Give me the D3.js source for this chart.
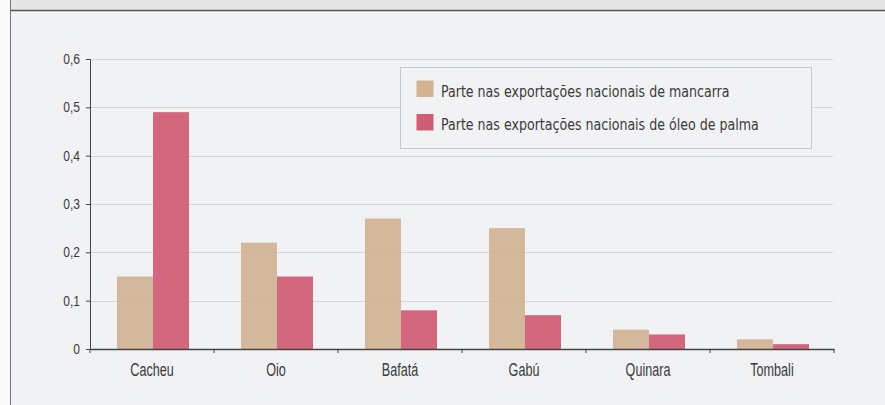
<!DOCTYPE html>
<html>
  <head>
    <meta charset="utf-8">
    <title>Exportações por região</title>
    <script src="https://d3js.org/d3.v7.min.js"></script>
    <style>
      body { margin: 0; background: #fafafa; }
      svg { display: block; font-family: "DejaVu Sans Condensed", "Liberation Sans Narrow", sans-serif; }
      .tick text { fill: #3a3a3a; }
    </style>
  </head>
  <body>
    <div id="chart"></div>
    <script>
      // data
      var regions = ["Cacheu", "Oio", "Bafatá", "Gabú", "Quinara", "Tombali"];
      var mancarra = [0.15, 0.22, 0.27, 0.25, 0.04, 0.02];
      var oleoPalma = [0.49, 0.15, 0.08, 0.07, 0.03, 0.01];
      var seriesNames = ["Parte nas exportações nacionais de mancarra", "Parte nas exportações nacionais de óleo de palma"];
      var colours = ["#d2b493", "#d05d74"];
      var yTicks = [0, 0.1, 0.2, 0.3, 0.4, 0.5, 0.6];

      var width = 885, height = 405;
      var margin = { top: 59, right: 51, bottom: 56, left: 90 };

      var svg = d3.select("#chart").append("svg")
        .attr("width", width)
        .attr("height", height);

      // squeeze a text element horizontally, the source font is a condensed face
      function condense(sel, k) {
        sel.each(function() {
          var len = this.getComputedTextLength();
          d3.select(this)
            .attr("textLength", len * k)
            .attr("lengthAdjust", "spacingAndGlyphs");
        });
      }

      // panel, header strip and left rule
      svg.append("rect").attr("x", 11).attr("y", 0).attr("width", width - 11).attr("height", height).attr("fill", "#f1f2f4");
      svg.append("rect").attr("x", 11).attr("y", 0).attr("width", width - 11).attr("height", 10).attr("fill", "#e6e6e6");
      svg.append("line").attr("x1", 11).attr("x2", width).attr("y1", 10.5).attr("y2", 10.5).attr("stroke", "#555").attr("stroke-width", 1.5);
      svg.append("line").attr("x1", 10.5).attr("x2", 10.5).attr("y1", 0).attr("y2", height).attr("stroke", "#777");

      var x = d3.scaleBand()
        .domain(regions)
        .range([margin.left, width - margin.right]);
      var x1 = d3.scaleBand()
        .domain([0, 1])
        .range([1, x.bandwidth() + 1])
        .paddingOuter(0.722)
        .paddingInner(0);
      var y = d3.scaleLinear()
        .domain([0, 0.6])
        .range([height - margin.bottom, margin.top]);

      // gridlines
      svg.append("g")
        .selectAll("line")
        .data(yTicks.slice(1))
        .enter().append("line")
          .attr("x1", margin.left)
          .attr("x2", width - margin.right - 1)
          .attr("y1", function(d) { return Math.round(y(d)) + 0.5; })
          .attr("y2", function(d) { return Math.round(y(d)) + 0.5; })
          .attr("stroke", "#d6d7d9");

      // bars
      var rows = regions.map(function(r, i) { return [mancarra[i], oleoPalma[i]]; });
      svg.append("g")
        .selectAll("g")
        .data(rows)
        .enter().append("g")
          .attr("transform", function(d, i) { return "translate(" + x(regions[i]) + ",0)"; })
        .selectAll("rect")
          .data(function(d) { return d; })
          .enter().append("rect")
            .attr("x", function(d, j) { return x1(j); })
            .attr("width", x1.bandwidth())
            .attr("y", function(d) { return y(d); })
            .attr("height", function(d) { return y(0) - y(d); })
            .attr("fill", function(d, j) { return colours[j]; })
            .attr("opacity", 0.93);

      // axes
      var yAxis = svg.append("g")
        .attr("transform", "translate(" + margin.left + ",0)")
        .call(d3.axisLeft(y)
          .tickValues(yTicks)
          .tickSize(4)
          .tickPadding(6)
          .tickFormat(function(d) { return d === 0 ? "0" : d3.format(".1f")(d).replace(".", ","); }));
      yAxis.selectAll("text").attr("font-size", 14);
      condense(yAxis.selectAll("text"), 0.86);
      yAxis.selectAll("line, path").attr("stroke", "#444");

      var xAxis = svg.append("g")
        .attr("transform", "translate(0," + y(0) + ")")
        .call(d3.axisBottom(x).tickSize(0).tickPadding(14.5));
      xAxis.selectAll("text").attr("font-size", 17.5);
      condense(xAxis.selectAll("text"), 0.72);
      xAxis.select(".domain").attr("stroke", "#444").attr("stroke-width", 1.3);
      xAxis.append("g")
        .selectAll("line")
        .data(x.range().concat(regions.slice(1).map(function(r) { return x(r); })))
        .enter().append("line")
          .attr("x1", function(d) { return d; })
          .attr("x2", function(d) { return d; })
          .attr("y1", 0)
          .attr("y2", 4)
          .attr("stroke", "#444");

      // legend
      var legend = svg.append("g").attr("transform", "translate(400.5,67.5)");
      legend.append("rect")
        .attr("width", 411)
        .attr("height", 81)
        .attr("fill", "#f1f2f4")
        .attr("stroke", "#c6c7c9");
      var items = legend.selectAll(".item")
        .data(seriesNames)
        .enter().append("g")
          .attr("transform", function(d, i) { return "translate(16," + (13 + i * 33.5) + ")"; });
      items.append("rect")
        .attr("width", 17)
        .attr("height", 16.5)
        .attr("fill", function(d, i) { return colours[i]; });
      var legendText = items.append("text")
        .attr("x", 24.5)
        .attr("y", 16)
        .attr("font-size", 16.5)
        .attr("fill", "#3a3a3a")
        .text(function(d) { return d; });
      condense(legendText, 0.85);
    </script>
  </body>
</html>
